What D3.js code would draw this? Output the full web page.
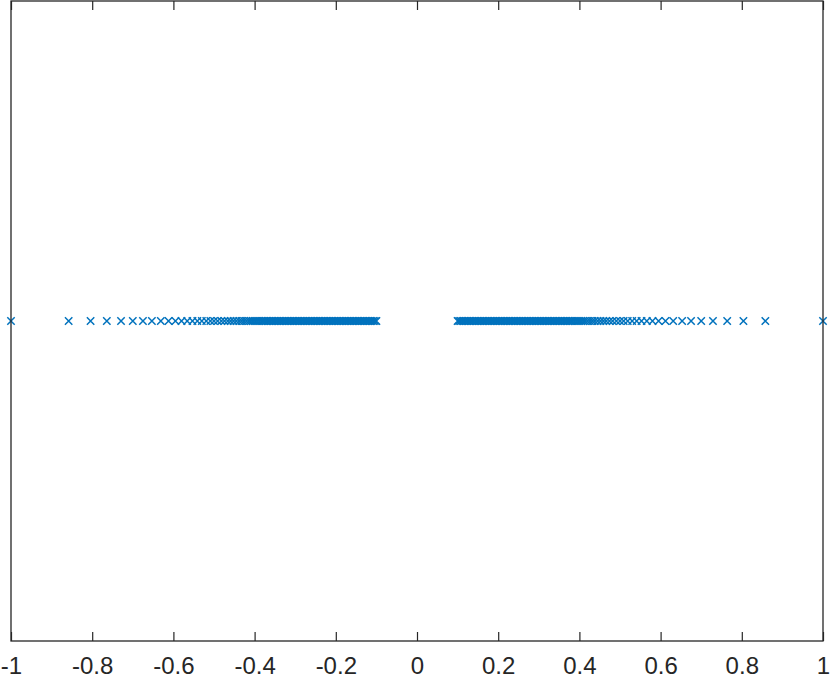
<!DOCTYPE html>
<html>
<head>
<meta charset="utf-8">
<script src="https://cdn.jsdelivr.net/npm/d3@7"></script>
<style>
  html, body { margin: 0; padding: 0; background: #fff; }
  svg { display: block; }
</style>
</head>
<body>
<div id="main"></div>
<script>
// x positions of the markers (all at y = 0)
var leftX = [-1.000,-0.858,-0.804,-0.764,-0.729,-0.700,-0.675,-0.653,-0.631,-0.612,-0.595,-0.580,-0.566,-0.553,-0.541,-0.530,-0.519,-0.509,-0.500,-0.491,-0.482,-0.474,-0.466,-0.459,-0.452,-0.445,-0.438,-0.432,-0.426,-0.420,-0.414,-0.409,-0.404,-0.399,-0.394,-0.389,-0.384,-0.380,-0.376,-0.372,
  -0.368,-0.364,-0.360,-0.356,-0.352,-0.348,-0.344,-0.340,-0.336,-0.332,-0.328,-0.324,-0.320,-0.316,-0.312,-0.308,-0.304,-0.300,-0.296,-0.292,-0.288,-0.284,-0.280,-0.276,-0.272,-0.268,-0.264,-0.260,-0.256,-0.252,-0.248,-0.244,-0.240,-0.236,-0.232,-0.228,-0.224,-0.220,-0.216,-0.212,-0.208,-0.204,-0.200,-0.196,-0.192,-0.188,-0.184,-0.180,-0.176,-0.172,-0.168,-0.164,-0.160,-0.156,-0.152,-0.148,-0.144,-0.140,-0.136,-0.132,-0.128,-0.124,-0.120,-0.116,-0.112,-0.108,-0.104,-0.100];
var rightX = [0.100,0.104,0.108,0.112,0.116,0.120,0.124,0.128,0.132,0.136,0.140,0.144,0.148,0.152,0.156,0.160,0.164,0.168,0.172,0.176,0.180,0.184,0.188,0.192,0.196,0.200,0.204,0.208,0.212,0.216,0.220,0.224,0.228,0.232,0.236,0.240,0.244,0.248,0.252,0.256,0.260,0.264,0.268,0.272,0.276,0.280,0.284,0.288,0.292,0.296,0.300,0.304,0.308,0.312,0.316,0.320,0.324,0.328,0.332,0.336,0.340,0.344,0.348,0.352,0.356,0.360,0.364,0.368,
  0.372,0.376,0.380,0.384,0.389,0.394,0.399,0.404,0.409,0.414,0.420,0.426,0.432,0.438,0.445,0.452,0.459,0.466,0.474,0.482,0.491,0.500,0.509,0.519,0.530,0.541,0.553,0.566,0.580,0.595,0.612,0.631,0.653,0.675,0.700,0.729,0.764,0.804,0.858,1.000];
var xTicks = [-1, -0.8, -0.6, -0.4, -0.2, 0, 0.2, 0.4, 0.6, 0.8, 1];
var xTickLabels = ['-1', '-0.8', '-0.6', '-0.4', '-0.2', '0', '0.2', '0.4', '0.6', '0.8', '1'];

var width = 830, height = 678;
var plotLeft = 11, plotRight = 823, plotTop = 1, plotBottom = 641;
var axisColor = '#262626', markColor = '#0072BD';

var svg = d3.select('#main')
  .append('svg')
  .attr('width', width).attr('height', height);

var x = d3.scaleLinear().domain([-1, 1]).range([plotLeft, plotRight]);
var y = d3.scaleLinear().domain([-1, 1]).range([plotBottom, plotTop]);

// markers
var pts = leftX.concat(rightX);
var s = 3.7;
svg.append('g')
  .selectAll('path')
  .data(pts)
  .enter().append('path')
    .attr('transform', function(d) { return 'translate(' + x(d) + ',' + y(0) + ')'; })
    .attr('d', 'M' + (-s) + ',' + (-s) + 'L' + s + ',' + s + 'M' + (-s) + ',' + s + 'L' + s + ',' + (-s))
    .attr('fill', 'none')
    .attr('stroke', markColor)
    .attr('stroke-width', 1.5);

// bottom axis with inward ticks
var xAxis = d3.axisBottom(x)
  .tickValues(xTicks)
  .tickFormat(function(d, i) { return xTickLabels[i]; })
  .tickSize(-9)
  .tickSizeOuter(0)
  .tickPadding(25);

var gx = svg.append('g')
  .attr('transform', 'translate(0,' + plotBottom + ')')
  .call(xAxis);
gx.select('.domain').remove();
gx.selectAll('.tick line').attr('stroke', axisColor).attr('stroke-width', 1.2);
gx.selectAll('.tick text')
  .attr('fill', axisColor)
  .attr('font-family', '"Liberation Sans", Arial, Helvetica, sans-serif')
  .attr('font-size', 24)
  .attr('dy', '0.35em');

// top axis ticks (no labels)
var gt = svg.append('g')
  .attr('transform', 'translate(0,' + plotTop + ')')
  .call(d3.axisTop(x).tickValues(xTicks).tickFormat('').tickSize(-9).tickSizeOuter(0));
gt.select('.domain').remove();
gt.selectAll('.tick line').attr('stroke', axisColor).attr('stroke-width', 1.2);

// axes box
svg.append('rect')
  .attr('x', plotLeft).attr('y', plotTop)
  .attr('width', plotRight - plotLeft).attr('height', plotBottom - plotTop)
  .attr('fill', 'none')
  .attr('stroke', axisColor)
  .attr('stroke-width', 1.3);
</script>
</body>
</html>
